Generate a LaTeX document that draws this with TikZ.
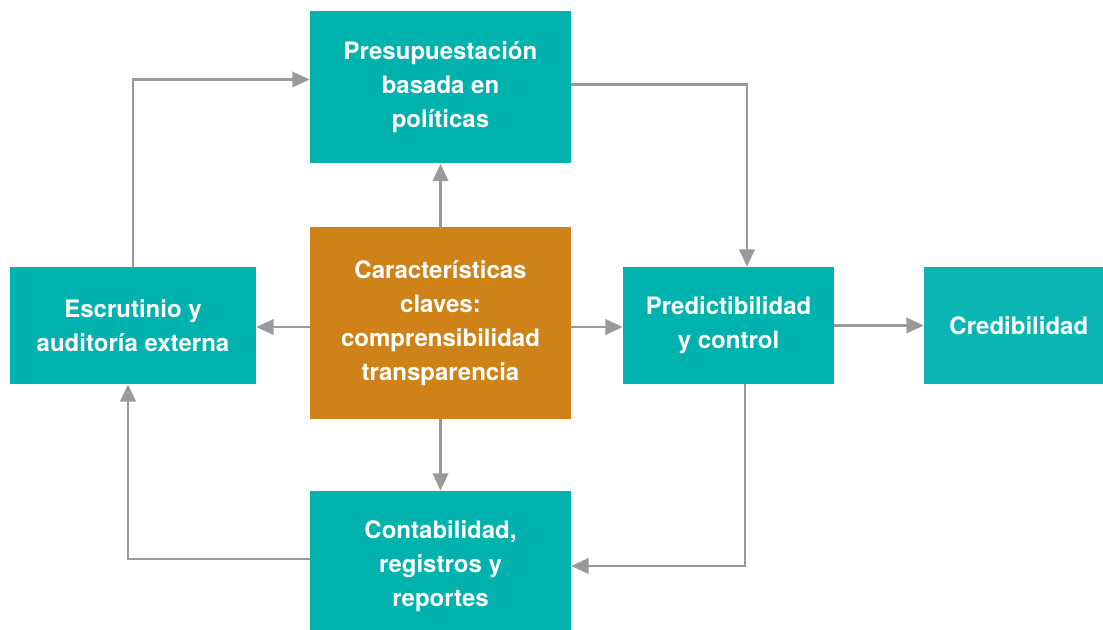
\documentclass[tikz,border=0pt]{standalone}
\usepackage{fontspec}
\setmainfont{TeX Gyre Heros}
\usetikzlibrary{arrows.meta,positioning,calc}

\definecolor{turquesa}{HTML}{00B2AE}
\definecolor{turquesaclaro}{HTML}{0BB5B4}
\definecolor{naranja}{HTML}{CF8217}
\definecolor{gris}{HTML}{9A9A9E}

\tikzset{
  texto/.style={text=white, align=center, inner sep=0pt,
    font=\bfseries\fontsize{18}{25.5}\selectfont},
  caja/.style={texto, fill=turquesa},
  flecha/.style={draw=gris, line width=2pt, -{Triangle[length=13pt,width=11.5pt]}},
}

\begin{document}
\begin{tikzpicture}[x=0.75pt,y=-0.75pt]
 \useasboundingbox (0,0) rectangle (1103,630);
 %
 \node[caja, minimum width=195.75pt, minimum height=114pt] (pres) at (440.5,87.5)
   {Presupuestación\\basada en\\políticas};
 \node[caja, fill=naranja, minimum width=195.75pt, minimum height=144pt] (centro) at (440.5,323)
   {Características\\claves:\\comprensibilidad\\transparencia};
 \node[caja, minimum width=184.5pt, minimum height=87.75pt] (esc) at (133,325.5)
   {Escrutinio y\\auditoría externa};
 \node[caja, minimum width=158.25pt, minimum height=87.75pt] (pred) at (728.5,325.5)
   {Predictibilidad\\y control};
 \node[caja, fill=turquesaclaro, minimum width=134.25pt, minimum height=87.75pt] (cred) at (1013.5,325.5)
   {\hspace*{8pt}Credibilidad};
 \node[caja, minimum width=195.75pt, minimum height=104.25pt] (cont) at (440.5,560.5) {};
 \node[texto] (contlbl) at ($(cont)+(0,6)$) {Contabilidad,\\registros y\\reportes};
 %
 \coordinate (ci) at ($(centro.west)+(0,4)$);
 \coordinate (cd) at ($(centro.east)+(0,4)$);
 \draw[flecha] (centro) -- (pres);
 \draw[flecha] (centro) -- (cont);
 \draw[flecha] (ci) -- (ci -| esc.east);
 \draw[flecha] (cd) -- (cd -| pred.west);
 \draw[flecha] (pred) -- (cred);
 % lazos exteriores
 \draw[flecha] (esc.north) |- ($(pres.west)+(0,-8)$);
 \draw[flecha] ($(pres.east)+(0,-3)$) -| ($(pred.north)+(18.5,0)$);
 \draw[flecha] ($(pred.south)+(16.5,0)$) |- ($(cont.east)+(0,5.5)$);
 \draw[flecha] ($(cont.west)+(0,-1.5)$) -| ($(esc.south)+(-5,0)$);
\end{tikzpicture}
\end{document}
